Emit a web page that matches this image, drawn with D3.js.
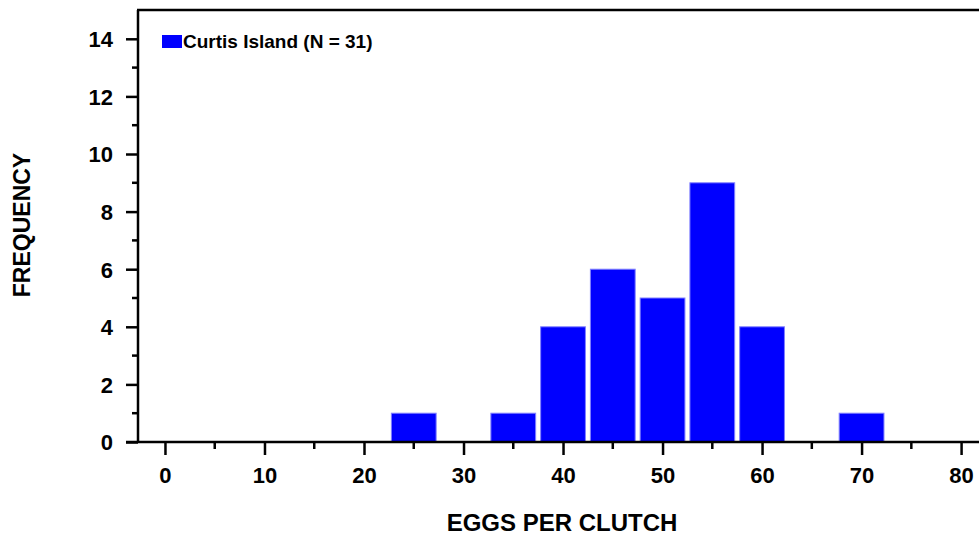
<!DOCTYPE html>
<html><head><meta charset="utf-8">
<script src="https://cdn.jsdelivr.net/npm/d3@7"></script>
<style>body{margin:0;background:#fff}svg{display:block}text{font-family:"Liberation Sans",Arial,sans-serif;font-weight:bold;fill:#000}</style>
</head><body><svg id="c" width="979" height="539"></svg>
<script>
const binCenters = [25, 35, 40, 45, 50, 55, 60, 70];
const counts = [1, 1, 4, 6, 5, 9, 4, 1];
const binWidth = 5;
const xTicks = [0, 10, 20, 30, 40, 50, 60, 70, 80];
const yTicks = [0, 2, 4, 6, 8, 10, 12, 14];
const legendLabel = "Curtis Island (N = 31)";
const xTitle = "EGGS PER CLUTCH";
const yTitle = "FREQUENCY";

const svg = d3.select("#c");
const x = d3.scaleLinear().domain([-2.71, 81.8]).range([138, 979]);
const y = d3.scaleLinear().domain([0, 15]).range([442, 10]);
const gap = 0.5;

svg.append("g").selectAll("rect").data(binCenters).join("rect")
  .attr("x", (d) => x(d - binWidth/2 + gap/2))
  .attr("width", (d) => x(d + binWidth/2 - gap/2) - x(d - binWidth/2 + gap/2))
  .attr("y", (d,i) => y(counts[i]))
  .attr("height", (d,i) => y(0) - y(counts[i]))
  .attr("fill", "#0000ff").attr("stroke", "#8080ff").attr("stroke-width", 1);

// x axis
const xMinor = d3.range(5, 80, 10);
const xa = svg.append("g").attr("transform", `translate(0,${y(0)})`);
xa.call(d3.axisBottom(x).tickValues(xTicks).tickSize(13).tickSizeOuter(0).tickFormat(d3.format("d")));
xa.select(".domain").remove();
xa.selectAll(".tick line").attr("stroke", "#000").attr("stroke-width", 2.5);
xa.selectAll(".tick text").attr("font-size", 22).attr("dy", "0").attr("y", 41);
xa.append("g").selectAll("line").data(xMinor).join("line")
  .attr("x1", d => x(d)).attr("x2", d => x(d)).attr("y1", 0).attr("y2", 7)
  .attr("stroke", "#000").attr("stroke-width", 2.5);
svg.append("line").attr("x1", 126).attr("x2", 979).attr("y1", y(0)).attr("y2", y(0))
  .attr("stroke", "#000").attr("stroke-width", 2.5);

// y axis
const yMinor = d3.range(1, 15, 2);
const ya = svg.append("g").attr("transform", `translate(138,0)`);
ya.call(d3.axisLeft(y).tickValues(yTicks).tickSize(12).tickSizeOuter(0).tickFormat(d3.format("d")));
ya.select(".domain").remove();
ya.selectAll(".tick line").attr("stroke", "#000").attr("stroke-width", 2.5);
ya.selectAll(".tick text").attr("font-size", 22).attr("x", -25).attr("dy", "0.36em");
ya.append("g").selectAll("line").data(yMinor).join("line")
  .attr("y1", d => y(d)).attr("y2", d => y(d)).attr("x1", 0).attr("x2", -6)
  .attr("stroke", "#000").attr("stroke-width", 2.5);
svg.append("line").attr("x1", 138).attr("x2", 138).attr("y1", y(15)).attr("y2", y(0))
  .attr("stroke", "#000").attr("stroke-width", 2.5);
svg.append("line").attr("x1", 137).attr("x2", 979).attr("y1", y(15)).attr("y2", y(15))
  .attr("stroke", "#000").attr("stroke-width", 2.5);

// titles
svg.append("text").attr("x", 562).attr("y", 531).attr("text-anchor", "middle").attr("font-size", 24).text(xTitle);
svg.append("text").attr("transform", `translate(30,225) rotate(-90)`).attr("text-anchor", "middle").attr("font-size", 23).text(yTitle);

// legend
svg.append("rect").attr("x", 162).attr("y", 35).attr("width", 20).attr("height", 13).attr("fill", "#0000ff");
svg.append("text").attr("x", 183).attr("y", 48).attr("font-size", 19).text(legendLabel);
</script></body></html>
